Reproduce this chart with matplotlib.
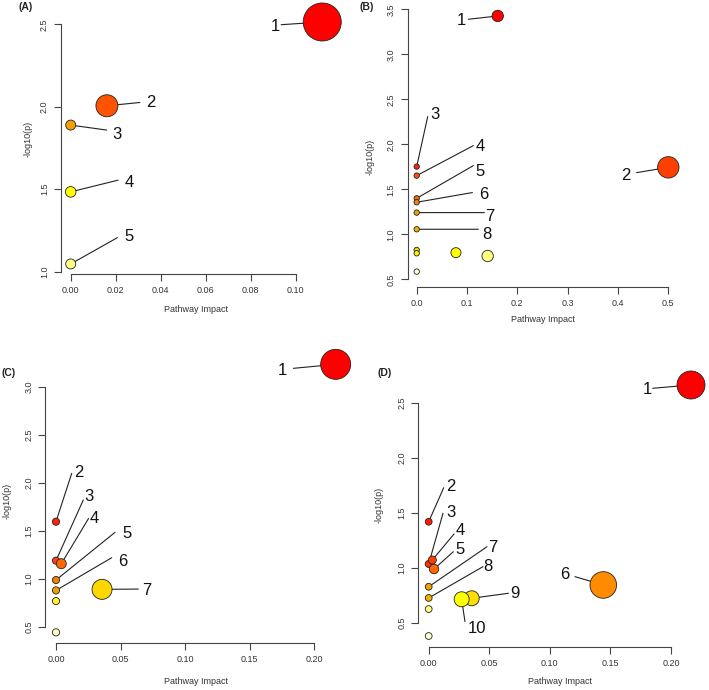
import matplotlib
matplotlib.use('Agg')
import matplotlib.pyplot as plt

plt.rcParams['font.family'] = ['Liberation Sans', 'DejaVu Sans']

W, H, DPI = 709, 690, 100

# ---------------- data ----------------
# Panel A
a_impact = [0.1118, 0.0161, 0.0, 0.0, 0.0]
a_logp = [2.514, 2.006, 1.889, 1.484, 1.047]
a_node = [19, 11, 5, 5.3, 5]
a_colors = ['#FF0000', '#FF5300', '#F5A000', '#FFFF00', '#FFFF88']
a_labels = ['1', '2', '3', '4', '5']
a_xticks = [0.00, 0.02, 0.04, 0.06, 0.08, 0.10]
a_yticks = [1.0, 1.5, 2.0, 2.5]

# Panel B
b_impact = [0.161, 0.5, 0.0, 0.0, 0.0, 0.0, 0.0, 0.0, 0.0, 0.0, 0.078, 0.141, 0.0]
b_logp = [3.426, 1.744, 1.752, 1.652, 1.40, 1.356, 1.241, 1.056, 0.826, 0.789, 0.796, 0.759, 0.585]
b_node = [5.7, 10.7, 2.7, 2.7, 2.7, 2.7, 2.7, 2.7, 2.7, 2.7, 5.0, 5.7, 2.7]
b_colors = ['#FF0000', '#FF4000', '#FF2010', '#FF5010', '#F56A00', '#F08010',
            '#F0A000', '#F0B400', '#F0D000', '#FFF000', '#FFFF00', '#FFFF80', '#FFFFD0']
b_labels = ['1', '2', '3', '4', '5', '6', '7', '8', '', '', '', '', '']
b_xticks = [0.0, 0.1, 0.2, 0.3, 0.4, 0.5]
b_yticks = [0.5, 1.0, 1.5, 2.0, 2.5, 3.0, 3.5]

# Panel C
c_impact = [0.2168, 0.0, 0.0, 0.0041, 0.0, 0.0, 0.0357, 0.0, 0.0]
c_logp = [3.233, 1.594, 1.188, 1.156, 0.986, 0.878, 0.889, 0.767, 0.441]
c_node = [15, 3.6, 3.6, 5, 3.6, 3.6, 10, 3.6, 3.6]
c_colors = ['#FF0000', '#FF2010', '#FF4010', '#FF6A00', '#F08000', '#F0A000',
            '#FFD700', '#FFF030', '#FFFFC0']
c_labels = ['1', '2', '3', '4', '5', '6', '7', '', '']
c_xticks = [0.00, 0.05, 0.10, 0.15, 0.20]
c_yticks = [0.5, 1.0, 1.5, 2.0, 2.5, 3.0]

# Panel D
d_impact = [0.2165, 0.0, 0.0, 0.003, 0.0044, 0.1441, 0.0, 0.0, 0.0355, 0.0272, 0.0, 0.0]
d_logp = [2.661, 1.418, 1.034, 1.070, 0.988, 0.843, 0.827, 0.725, 0.722, 0.713, 0.624, 0.379]
d_node = [14, 3.4, 3.5, 4, 4.7, 13.3, 3.4, 3.4, 7.5, 7.5, 3.4, 3.4]
d_colors = ['#FF0000', '#FF1A00', '#FF3300', '#FF4000', '#FF6600', '#FF8C00',
            '#F0A000', '#F0B400', '#FFDD00', '#FFFF00', '#FFFF80', '#FFFFD0']
d_labels = ['1', '2', '3', '4', '5', '6', '7', '8', '9', '10', '', '']
d_xticks = [0.00, 0.05, 0.10, 0.15, 0.20]
d_yticks = [0.5, 1.0, 1.5, 2.0, 2.5]

# ---------------- layout (pixels) ----------------
# label placement: label -> (text dx, text dy, line-end dx, line-end dy), pixels, y up
a_lab = {'1': (-47, -3, -41, -2.7), '2': (44, 5, 33, 3.3), '3': (46.7, -8, 36, -5),
         '4': (58.3, 11, 47.3, 11.7), '5': (58.3, 29, 46.7, 26.3)}
b_lab = {'1': (-36.7, -3.3, -29.3, -3.3), '2': (-42.7, -6.7, -31.7, -5.3),
         '3': (18.3, 53.3, 11, 50), '4': (63.3, 30.7, 56.7, 30),
         '5': (63.3, 28.3, 56.7, 32.7), '6': (66.7, 9, 55.7, 9.7),
         '7': (73.3, -2.3, 67.7, 0), '8': (70, -4, 61.7, 0)}
c_lab = {'1': (-53, -4.7, -42.3, -4), '2': (23, 50.7, 15.7, 48.3),
         '3': (33, 65.7, 27.3, 60.7), '4': (33, 47, 27.3, 45.3),
         '5': (71.3, 47.7, 59, 47.7), '6': (66.7, 30.3, 55.7, 32.7),
         '7': (44.7, 0.3, 36.3, 0.3)}
d_lab = {'1': (-43.7, -3.3, -38.3, -3.3), '2': (21.7, 36.7, 15, 34),
         '3': (22.3, 53, 14.3, 50.7), '4': (27.7, 30.7, 21.7, 26),
         '5': (26, 20.7, 19.3, 17.3), '6': (-39, 11.7, -28.3, 8.3),
         '7': (64, 41, 58.3, 40), '8': (59, 33, 54.3, 31.3),
         '9': (43.3, 6.7, 36.7, 5), '10': (15, -27.3, 3.3, -22.3)}

panels = [
    dict(x=a_impact, y=a_logp, r=a_node, c=a_colors, lab=a_labels, xt=a_xticks, yt=a_yticks,
         xfmt='%.2f', yfmt='%.1f', off=a_lab,
         box=(60.7, 5, 345, 274), xcal=((0.0, 70.7), (0.1, 295.7)), ycal=((1.0, 271.7), (2.5, 24.3)),
         title='(A)', tpos=(26, 7.5), xl=(196, 309), yl=(28.3, 139)),
    dict(x=b_impact, y=b_logp, r=b_node, c=b_colors, lab=b_labels, xt=b_xticks, yt=b_yticks,
         xfmt='%.1f', yfmt='%.1f', off=b_lab,
         box=(407.5, 2, 700, 286.7), xcal=((0.0, 416.7), (0.5, 668.3)), ycal=((0.5, 279.3), (3.5, 9.3)),
         title='(B)', tpos=(366.7, 7.5), xl=(543.3, 319.3), yl=(370, 156.7)),
    dict(x=c_impact, y=c_logp, r=c_node, c=c_colors, lab=c_labels, xt=c_xticks, yt=c_yticks,
         xfmt='%.2f', yfmt='%.1f', off=c_lab,
         box=(45, 355, 350, 643.3), xcal=((0.0, 56), (0.2, 314)), ycal=((0.5, 626.7), (3.0, 386.7)),
         title='(C)', tpos=(8.8, 373.3), xl=(195.8, 681.7), yl=(7.3, 500.7)),
    dict(x=d_impact, y=d_logp, r=d_node, c=d_colors, lab=d_labels, xt=d_xticks, yt=d_yticks,
         xfmt='%.2f', yfmt='%.1f', off=d_lab,
         box=(418.3, 360, 705, 646.7), xcal=((0.0, 428.7), (0.2, 671)), ycal=((2.5, 402.7), (0.5, 622.7)),
         title='(D)', tpos=(385, 373.3), xl=(560.5, 681.7), yl=(379, 505)),
]

AXC = '#444444'
TXT = '#333333'

fig = plt.figure(figsize=(W / DPI, H / DPI), dpi=DPI)

for p in panels:
    left, top, right, bottom = p['box']
    ax = fig.add_axes([left / W, 1 - bottom / H, (right - left) / W, (bottom - top) / H])
    (xv0, xp0), (xv1, xp1) = p['xcal']
    sx = (xv1 - xv0) / (xp1 - xp0)
    ax.set_xlim(xv0 + (left - xp0) * sx, xv0 + (right - xp0) * sx)
    (yv0, yp0), (yv1, yp1) = p['ycal']
    sy = (yv1 - yv0) / (yp1 - yp0)
    ax.set_ylim(yv0 + (bottom - yp0) * sy, yv0 + (top - yp0) * sy)
    ax.patch.set_visible(False)

    for s in ('top', 'right'):
        ax.spines[s].set_visible(False)
    ax.spines['left'].set_bounds(p['yt'][0], p['yt'][-1])
    ax.spines['bottom'].set_bounds(p['xt'][0], p['xt'][-1])
    for s in ('left', 'bottom'):
        ax.spines[s].set_color(AXC)
        ax.spines[s].set_linewidth(0.8)
    ax.set_xticks(p['xt'])
    ax.set_xticklabels([p['xfmt'] % v for v in p['xt']])
    ax.set_yticks(p['yt'])
    ax.set_yticklabels([p['yfmt'] % v for v in p['yt']], rotation=90, va='center')
    ax.tick_params(direction='out', length=5, width=0.8, color=AXC, labelcolor=TXT,
                   labelsize=6.5, pad=3.5)

    sizes = [(2 * r * 0.72) ** 2 for r in p['r']]
    ax.scatter(p['x'], p['y'], s=sizes, c=p['c'], edgecolors='#222222', linewidths=0.6,
               zorder=3, clip_on=False)

    for xi, yi, lb in zip(p['x'], p['y'], p['lab']):
        if not lb:
            continue
        tdx, tdy, ldx, ldy = p['off'][lb]
        ax.annotate('', xy=(xi, yi), xytext=(ldx, ldy), textcoords='offset pixels',
                    arrowprops=dict(arrowstyle='-', color='#222222', lw=0.8,
                                    shrinkA=0, shrinkB=0),
                    zorder=2, annotation_clip=False)
        ax.annotate(lb, xy=(xi, yi), xytext=(tdx, tdy - 6), textcoords='offset pixels',
                    ha='center', va='baseline', fontsize=12, color='#111111',
                    zorder=4, annotation_clip=False)

    fig.text(p['tpos'][0] / W, 1 - p['tpos'][1] / H, p['title'], ha='center', va='center',
             fontsize=7.5, fontweight='bold', color='#222222')
    fig.text(p['xl'][0] / W, 1 - p['xl'][1] / H, 'Pathway Impact', ha='center', va='center',
             fontsize=6.5, color=TXT)
    fig.text(p['yl'][0] / W, 1 - p['yl'][1] / H, '-log10(p)', ha='center', va='center',
             fontsize=6.5, color=TXT, rotation=90)

fig.savefig('out.png', dpi=DPI)
